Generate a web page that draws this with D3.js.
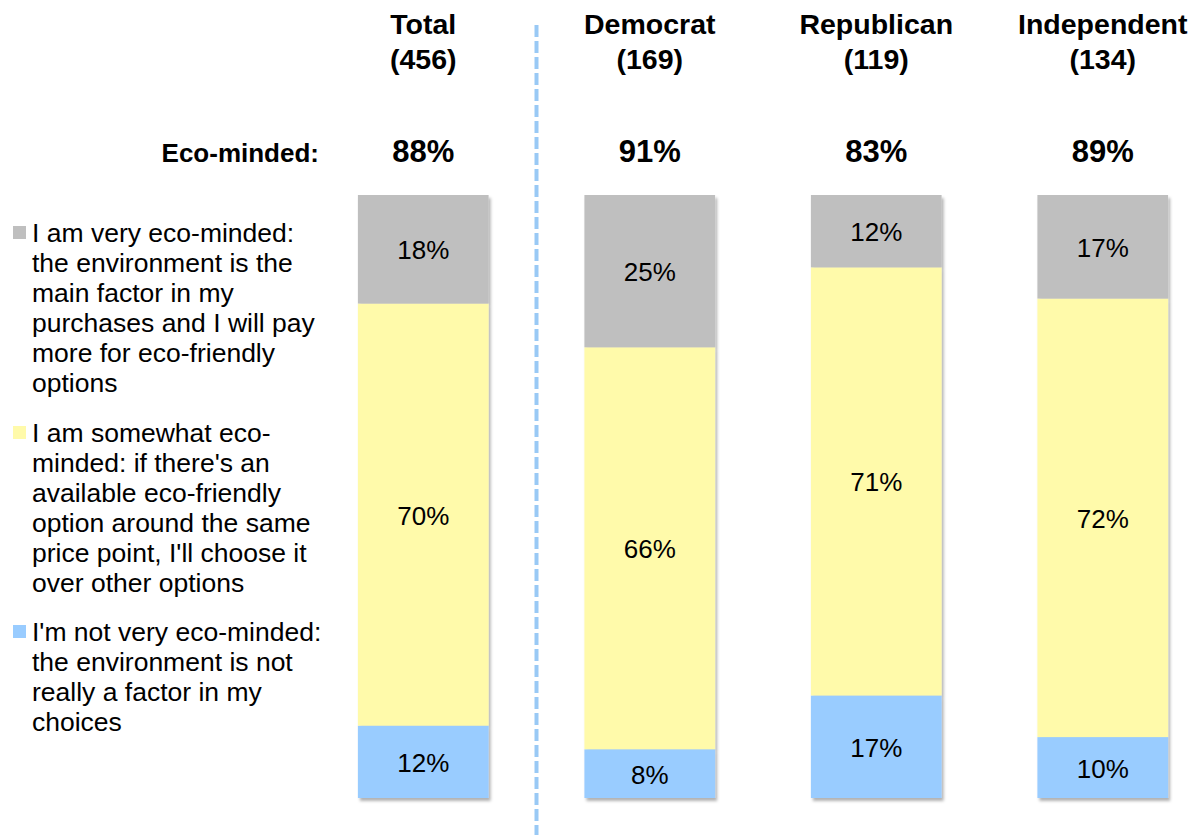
<!DOCTYPE html>
<html>
<head>
<meta charset="utf-8">
<script src="https://cdn.jsdelivr.net/npm/d3@7"></script>
<style>
  body { margin: 0; background: #fff; }
  text { font-family: "Liberation Sans", Arial, sans-serif; fill: #000; }
</style>
</head>
<body>
<div id="chart"></div>
<script>
// data
var groups = ["Total", "Democrat", "Republican", "Independent"];
var bases = ["(456)", "(169)", "(119)", "(134)"];
var ecoMinded = ["88%", "91%", "83%", "89%"];
var keys = ["not", "somewhat", "very"];
var veryEco = [18, 25, 12, 17];
var somewhatEco = [70, 66, 71, 72];
var notEco = [12, 8, 17, 10];
var legendLines = [
  ["I am very eco-minded:", "the environment is the", "main factor in my", "purchases and I will pay", "more for eco-friendly", "options"],
  ["I am somewhat eco-", "minded: if there's an", "available eco-friendly", "option around the same", "price point, I'll choose it", "over other options"],
  ["I'm not very eco-minded:", "the environment is not", "really a factor in my", "choices"]
];

var colors = { very: "#bfbfbf", somewhat: "#fffaaa", not: "#99ccff" };
var legendKeys = ["very", "somewhat", "not"];

var width = 1195, height = 835;

var rows = groups.map(function (g, i) {
  return { group: g, very: veryEco[i], somewhat: somewhatEco[i], not: notEco[i] };
});

var svg = d3
  .select("#chart")
  .append("svg")
  .attr("width", width)
  .attr("height", height);

// drop shadow for the bars
var defs = svg.append("defs");
var filter = defs.append("filter").attr("id", "shadow")
  .attr("x", "-10%").attr("y", "-10%").attr("width", "130%").attr("height", "130%");
filter.append("feDropShadow")
  .attr("dx", 2).attr("dy", 3).attr("stdDeviation", 1.5)
  .attr("flood-color", "#000").attr("flood-opacity", 0.3);

var x = d3.scaleBand()
  .domain(groups)
  .range([310, 1216])
  .paddingInner(0.423)
  .paddingOuter(0.2115);

var y = d3.scaleLinear().domain([0, 1]).range([798, 195]);

var stack = d3.stack().keys(keys).offset(d3.stackOffsetExpand);
var series = stack(rows);

// bars
var barG = svg.append("g");
groups.forEach(function (g, i) {
  var col = barG.append("g").attr("filter", "url(#shadow)");
  series.forEach(function (s) {
    var d = s[i];
    col.append("rect")
      .attr("x", x(g))
      .attr("y", y(d[1]))
      .attr("width", x.bandwidth())
      .attr("height", y(d[0]) - y(d[1]))
      .attr("fill", colors[s.key]);
  });
});

// segment labels
series.forEach(function (s) {
  svg.append("g")
    .selectAll("text")
    .data(s)
    .enter()
    .append("text")
    .attr("x", function (d) { return x(d.data.group) + x.bandwidth() / 2; })
    .attr("y", function (d) { return (y(d[0]) + y(d[1])) / 2 + 1; })
    .attr("text-anchor", "middle")
    .attr("dominant-baseline", "central")
    .style("font-size", "26px")
    .text(function (d) { return d.data[s.key] + "%"; });
});

// column headers
groups.forEach(function (g, i) {
  var cx = x(g) + x.bandwidth() / 2;
  var t = svg.append("text")
    .attr("text-anchor", "middle")
    .style("font-size", "28.5px")
    .style("font-weight", "bold");
  t.append("tspan").attr("x", cx).attr("y", 34).text(g);
  t.append("tspan").attr("x", cx).attr("y", 69).text(bases[i]);

  svg.append("text")
    .attr("x", cx)
    .attr("y", 162)
    .attr("text-anchor", "middle")
    .style("font-size", "31px")
    .style("font-weight", "bold")
    .text(ecoMinded[i]);
});

svg.append("text")
  .attr("x", 319)
  .attr("y", 162)
  .attr("text-anchor", "end")
  .style("font-size", "26px")
  .style("font-weight", "bold")
  .text("Eco-minded:");

// dashed divider between Total and the party columns
var divX = (x("Total") + x.bandwidth() + x("Democrat")) / 2;
svg.append("line")
  .attr("x1", divX).attr("x2", divX)
  .attr("y1", 25).attr("y2", height)
  .attr("stroke", "#99c9f5")
  .attr("stroke-width", 4)
  .attr("stroke-dasharray", "12,4");

// legend
var legendTop = [242, 442, 641];
var lineH = 30;
legendKeys.forEach(function (k, i) {
  var lg = svg.append("g");
  lg.append("rect")
    .attr("x", 13)
    .attr("y", legendTop[i] - 16)
    .attr("width", 13)
    .attr("height", 13)
    .attr("fill", colors[k]);
  var t = lg.append("text").style("font-size", "26.5px");
  legendLines[i].forEach(function (line, j) {
    t.append("tspan")
      .attr("x", 32)
      .attr("y", legendTop[i] + j * lineH)
      .text(line);
  });
});
</script>
</body>
</html>
